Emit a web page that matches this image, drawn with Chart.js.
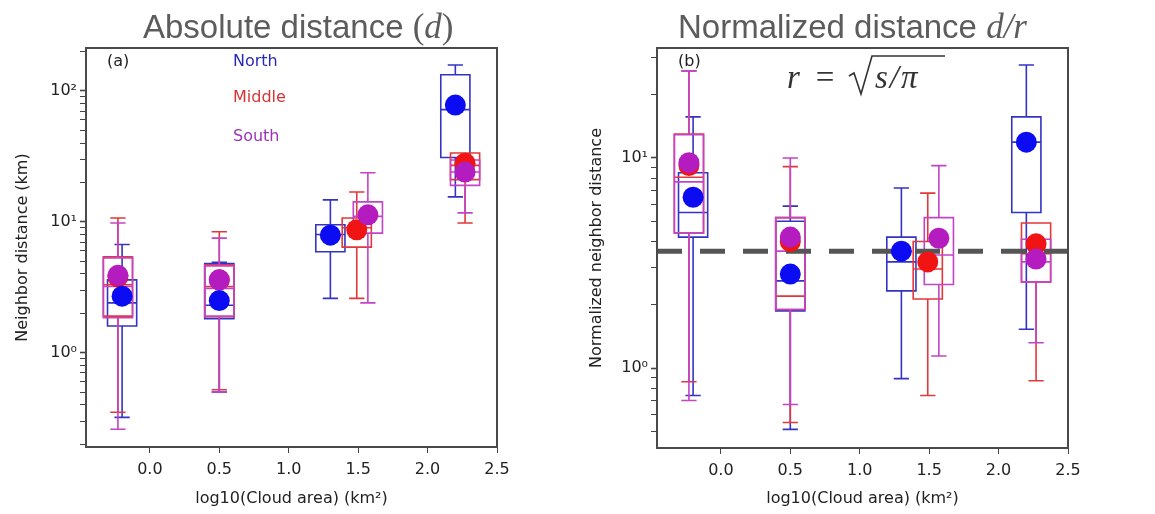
<!DOCTYPE html>
<html lang="en">
<head>
<meta charset="UTF-8">
<title>Neighbor distance vs cloud area</title>
<script src="https://cdn.jsdelivr.net/npm/chart.js"></script>
<style>
  body { margin: 0; background: #fff; }
  #wrap { position: relative; width: 1155px; height: 514px; }
  .panel { position: absolute; top: 0; height: 514px; }
  #left { left: 0; width: 578px; }
  #right { left: 578px; width: 577px; }
</style>
</head>
<body>
<div id="wrap">
  <div class="panel" id="left"><canvas id="absChart" width="578" height="514"></canvas></div>
  <div class="panel" id="right"><canvas id="normChart" width="577" height="514"></canvas></div>
</div>
<script>
// box centres on log10(cloud area), one per size bin
const northX = [-0.2, 0.5, 1.3, 2.2];
const middleX = [-0.23, 0.5, 1.49, 2.27];
const southX = [-0.23, 0.5, 1.57, 2.27];

// boxes as [whisker low, q1, median, q3, whisker high]
const absNorthBox = [[0.32, 1.6, 2.4, 3.6, 6.7], [0.5, 1.82, 2.3, 4.8, 4.9], [2.6, 5.9, 8.0, 9.5, 14.7], [15.5, 31, 72, 133, 158]];
const absMiddleBox = [[0.35, 1.9, 3.3, 5.4, 10.7], [0.52, 1.88, 3.2, 4.7, 8.4], [2.6, 6.4, 9.0, 10.7, 16.9], [9.8, 21, 27, 33.6, 33.6]];
const absSouthBox = [[0.26, 1.85, 3.2, 5.3, 9.8], [0.5, 1.9, 3.1, 4.6, 7.5], [2.4, 8.2, 11, 14.2, 23.7], [11.7, 19, 24, 29.7, 29.7]];
const absNorthMean = [2.7, 2.5, 7.9, 78];
const absMiddleMean = [3.8, 3.6, 8.7, 28];
const absSouthMean = [3.9, 3.6, 11.3, 24];

const normNorthBox = [[0.74, 4.2, 5.5, 8.5, 15.7], [0.51, 1.87, 2.6, 5.0, 5.9], [0.89, 2.33, 3.2, 4.2, 7.2], [1.53, 5.5, 11.9, 15.7, 27.7]];
const normMiddleBox = [[0.86, 4.4, 8.1, 13, 26], [0.55, 1.9, 2.2, 5.2, 9.1], [0.74, 2.13, 2.96, 4.0, 6.8], [0.87, 2.57, 3.5, 4.9, 4.9]];
const normSouthBox = [[0.70, 4.4, 7.7, 12.9, 26], [0.67, 1.9, 3.6, 5.2, 10], [1.14, 2.5, 3.45, 5.2, 9.2], [1.32, 2.57, 3.2, 4.1, 4.1]];
const normNorthMean = [6.5, 2.8, 3.6, 11.9];
const normMiddleMean = [9.2, 4.0, 3.2, 3.9];
const normSouthMean = [9.5, 4.2, 4.15, 3.3];

const normRef = 3.6; // dashed reference line

const xTicks = [0, 0.5, 1, 1.5, 2, 2.5];
const yMajorTicks = [1, 10, 100];
const yMajorLabels = ['10\u2070', '10\u00b9', '10\u00b2'];
const regionNames = ['North', 'Middle', 'South'];

const boxColors = ['#3434c4', '#e2383a', '#c244c8'];
const dotColors = ['#0c0cf2', '#f01414', '#b41cc0'];
const textColors = ['#2a2ab8', '#d83434', '#9a34b4'];
const boxWidth = 0.21;
const capWidth = 0.11;
const FONT = '"DejaVu Sans", sans-serif';

function makeBoxes(series) {
  return {
    id: 'boxes',
    beforeDatasetsDraw(chart) {
      const {ctx, scales: {x, y}} = chart;
      ctx.save();
      ctx.lineWidth = 1.6;
      series.forEach(s => {
        ctx.strokeStyle = s.color;
        s.boxes.forEach((b, i) => {
          const cx = x.getPixelForValue(s.x[i]);
          const hw = x.getPixelForValue(s.x[i] + boxWidth / 2) - cx;
          const cw = x.getPixelForValue(s.x[i] + capWidth / 2) - cx;
          const [lo, q1, med, q3, hi] = b.map(v => y.getPixelForValue(v));
          ctx.beginPath();
          ctx.rect(cx - hw, q3, hw * 2, q1 - q3);
          ctx.moveTo(cx - hw, med); ctx.lineTo(cx + hw, med);
          ctx.moveTo(cx, q1); ctx.lineTo(cx, lo);
          ctx.moveTo(cx, q3); ctx.lineTo(cx, hi);
          ctx.moveTo(cx - cw, lo); ctx.lineTo(cx + cw, lo);
          ctx.moveTo(cx - cw, hi); ctx.lineTo(cx + cw, hi);
          ctx.stroke();
        });
      });
      ctx.restore();
    }
  };
}

function drawParts(ctx, parts, x, y) {
  parts.forEach(p => {
    ctx.font = p.f;
    ctx.fillText(p.t, x, y);
    x += ctx.measureText(p.t).width + (p.gap || 0);
  });
}

function makeDecor(deco) {
  return {
    id: 'decor',
    afterDraw(chart) {
      const {ctx, chartArea: a} = chart;
      ctx.save();
      ctx.strokeStyle = '#4a4a4a';
      ctx.lineWidth = 2;
      ctx.strokeRect(a.left, a.top, a.right - a.left, a.bottom - a.top);
      ctx.textBaseline = 'alphabetic';
      ctx.textAlign = 'left';
      ctx.fillStyle = '#5c5c5c';
      drawParts(ctx, deco.title, a.left + deco.titleDx, 38);
      ctx.textBaseline = 'middle';
      ctx.fillStyle = '#222';
      ctx.font = '16px ' + FONT;
      ctx.fillText(deco.tag, a.left + 21, a.top + 14);
      if (deco.legend) {
        [14, 50, 89].forEach((dy, i) => {
          ctx.fillStyle = textColors[i];
          ctx.fillText(regionNames[i], a.left + 147, a.top + dy);
        });
      }
      if (deco.formula) {
        const fx = a.left + 130, fy = a.top + 40;
        ctx.textBaseline = 'alphabetic';
        ctx.fillStyle = '#333';
        const serif = 'italic 33px "Liberation Serif", serif';
        drawParts(ctx, [
          {t: 'r', f: serif, gap: 16},
          {t: '=', f: '33px "Liberation Serif", serif'}
        ], fx, fy);
        // radical sign with overbar
        const rx = fx + 62;
        ctx.strokeStyle = '#333';
        ctx.lineWidth = 1.6;
        ctx.beginPath();
        ctx.moveTo(rx, fy - 12);
        ctx.lineTo(rx + 5, fy - 15);
        ctx.lineTo(rx + 12, fy + 6);
        ctx.lineTo(rx + 23, fy - 32);
        ctx.lineTo(rx + 96, fy - 32);
        ctx.stroke();
        drawParts(ctx, [
          {t: 's', f: serif, gap: 2},
          {t: '/', f: serif, gap: 2},
          {t: '\u03c0', f: serif}
        ], rx + 26, fy);
      }
      ctx.restore();
    }
  };
}

function points(xs, ys) {
  return xs.map((v, i) => ({x: v, y: ys[i]}));
}

function yTickList(min, max) {
  const list = [];
  for (let e = -1; e <= 2; e++) {
    for (let m = 1; m <= 9; m++) {
      const v = m * Math.pow(10, e);
      if (v >= min && v <= max) list.push({value: v, major: m === 1});
    }
  }
  return list;
}

function buildChart(id, cfg) {
  const datasets = [
    {data: points(northX, cfg.means[0]), backgroundColor: dotColors[0]},
    {data: points(southX, cfg.means[2]), backgroundColor: dotColors[2]},
    {data: points(middleX, cfg.means[1]), backgroundColor: dotColors[1]}
  ].map(d => Object.assign(d, {type: 'scatter', pointRadius: 10.5, pointHoverRadius: 10.5, borderWidth: 0}));
  if (cfg.ref) {
    datasets.push({
      type: 'line',
      data: [{x: cfg.xMin, y: cfg.ref}, {x: cfg.xMax, y: cfg.ref}],
      borderColor: '#555', borderWidth: 5, borderDash: [25, 18],
      pointRadius: 0, fill: false
    });
  }
  const tickGrid = {
    display: true, drawOnChartArea: false, drawTicks: true, tickLength: 6,
    tickColor: '#444', tickWidth: c => (c.tick && c.tick.major ? 1.6 : 1)
  };
  return new Chart(document.getElementById(id), {
    data: {datasets},
    options: {
      responsive: false,
      animation: false,
      devicePixelRatio: 1,
      layout: {padding: {top: 48, right: cfg.padRight, left: 0, bottom: 0}},
      plugins: {legend: {display: false}, tooltip: {enabled: false}},
      scales: {
        x: {
          type: 'linear', min: cfg.xMin, max: cfg.xMax,
          afterBuildTicks: s => { s.ticks = xTicks.map(v => ({value: v})); },
          afterFit: s => { s.height = cfg.xHeight; },
          ticks: {callback: v => v.toFixed(1), color: '#222', font: {family: FONT, size: 16}, padding: 7, maxRotation: 0},
          grid: tickGrid,
          border: {display: true, color: '#4a4a4a', width: 2},
          title: {display: true, text: 'log10(Cloud area) (km\u00b2)', color: '#222', font: {family: FONT, size: 16}, padding: {top: 0, bottom: 6}}
        },
        y: {
          type: 'logarithmic', min: cfg.yMin, max: cfg.yMax,
          afterBuildTicks: s => { s.ticks = yTickList(cfg.yMin, cfg.yMax); },
          afterFit: s => { s.width = cfg.yWidth; },
          ticks: {
            autoSkip: false, color: '#222', font: {family: FONT, size: 16}, padding: 3,
            callback: v => { const k = yMajorTicks.indexOf(v); return k >= 0 ? yMajorLabels[k] : ''; }
          },
          grid: tickGrid,
          border: {display: true, color: '#4a4a4a', width: 2},
          title: {display: true, text: cfg.yTitle, color: '#222', font: {family: FONT, size: 16}, padding: {top: cfg.yTitlePad, bottom: 0}}
        }
      }
    },
    plugins: [makeBoxes(cfg.series), makeDecor(cfg.deco)]
  });
}

buildChart('absChart', {
  xMin: -0.46, xMax: 2.5, yMin: 0.19, yMax: 213,
  padRight: 81, yWidth: 86, xHeight: 67, yTitlePad: 13,
  yTitle: 'Neighbor distance (km)',
  means: [absNorthMean, absMiddleMean, absSouthMean],
  series: [
    {x: northX, boxes: absNorthBox, color: boxColors[0]},
    {x: middleX, boxes: absMiddleBox, color: boxColors[1]},
    {x: southX, boxes: absSouthBox, color: boxColors[2]}
  ],
  deco: {
    titleDx: 57, tag: '(a)', legend: true,
    title: [
      {t: 'Absolute distance ', f: '33px "Liberation Sans", sans-serif'},
      {t: '(', f: '35px "Liberation Serif", serif'},
      {t: 'd', f: 'italic 35px "Liberation Serif", serif'},
      {t: ')', f: '35px "Liberation Serif", serif'}
    ]
  }
});

buildChart('normChart', {
  xMin: -0.46, xMax: 2.5, yMin: 0.416, yMax: 33.4, ref: normRef,
  padRight: 87, yWidth: 79, xHeight: 66, yTitlePad: 9,
  yTitle: 'Normalized neighbor distance',
  means: [normNorthMean, normMiddleMean, normSouthMean],
  series: [
    {x: northX, boxes: normNorthBox, color: boxColors[0]},
    {x: middleX, boxes: normMiddleBox, color: boxColors[1]},
    {x: southX, boxes: normSouthBox, color: boxColors[2]}
  ],
  deco: {
    titleDx: 21, tag: '(b)', legend: false, formula: true,
    title: [
      {t: 'Normalized distance ', f: '33px "Liberation Sans", sans-serif'},
      {t: 'd', f: 'italic 35px "Liberation Serif", serif'},
      {t: '/', f: 'italic 35px "Liberation Serif", serif'},
      {t: 'r', f: 'italic 35px "Liberation Serif", serif'}
    ]
  }
});
</script>
</body>
</html>
